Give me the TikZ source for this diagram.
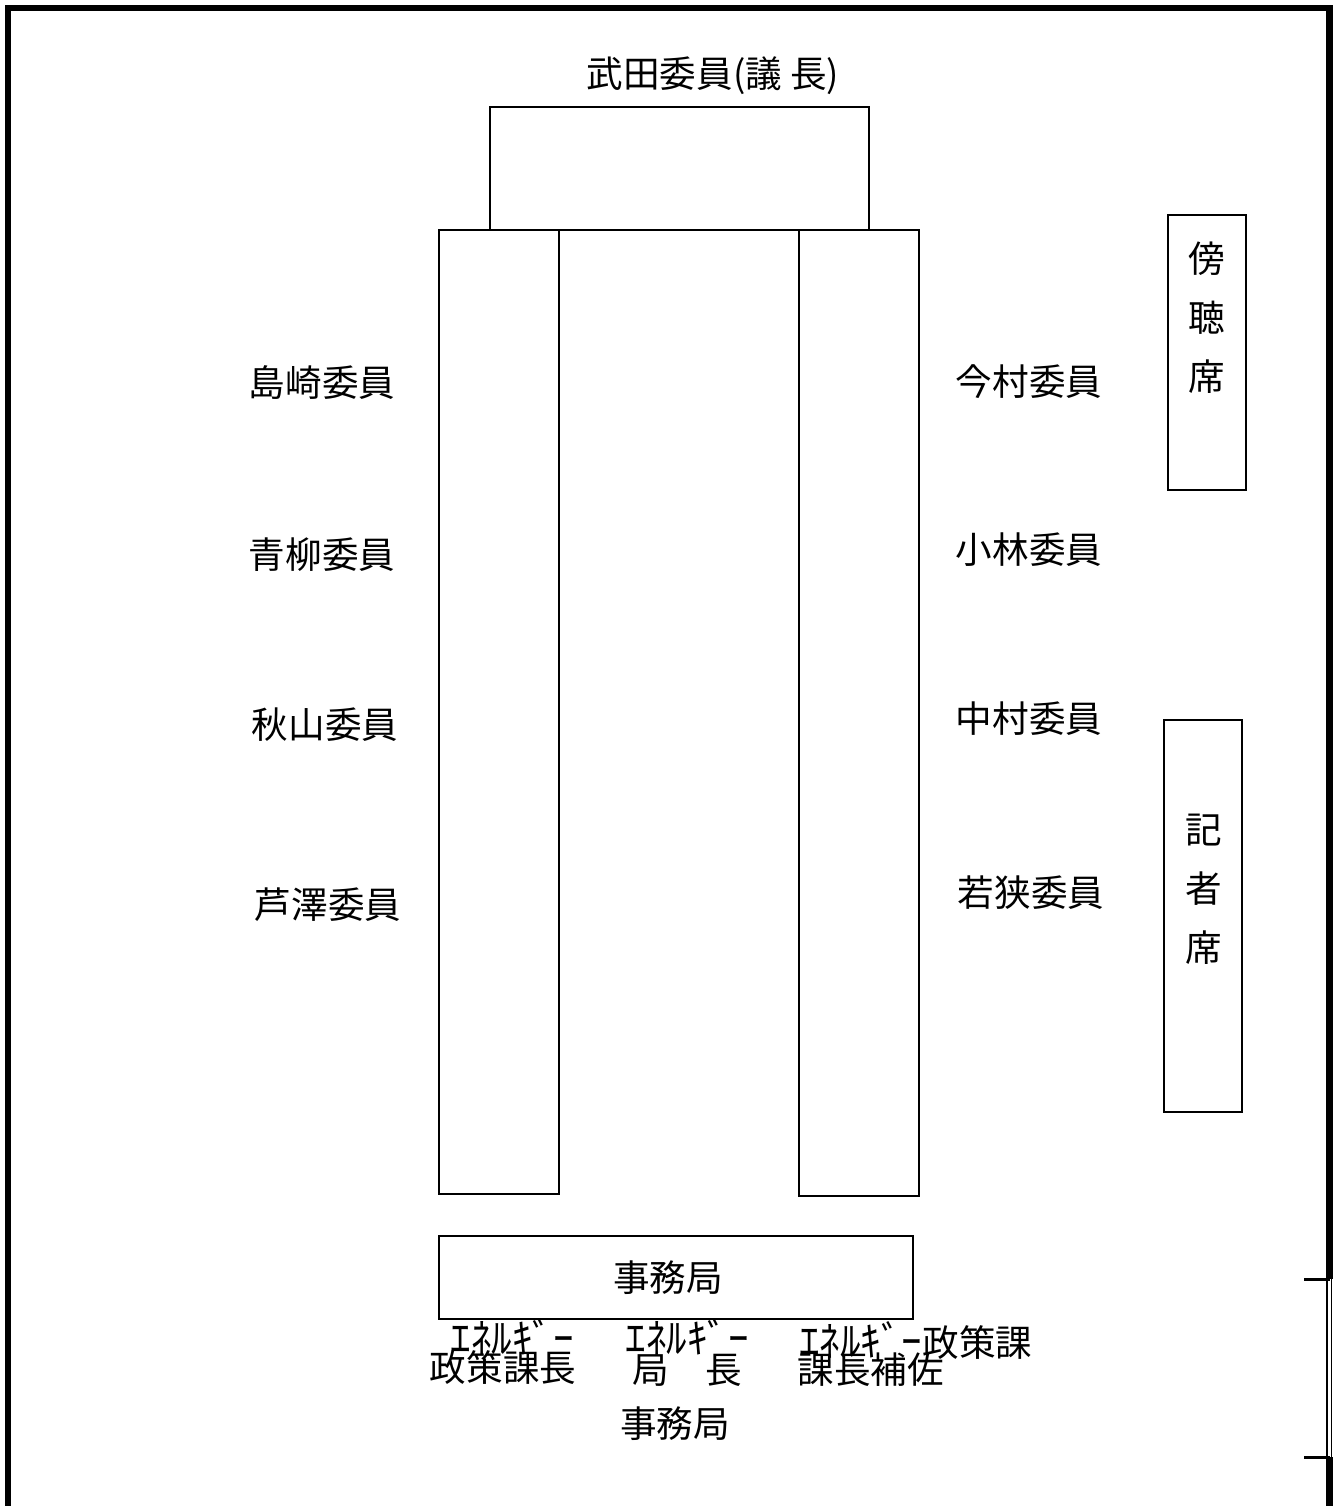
\documentclass[tikz,border=0pt]{standalone}
\usepackage{fontspec}
\newfontfamily\jp{Noto Sans CJK JP}
\newcommand{\hk}[1]{{\fontsize{20.5pt}{20pt}\selectfont #1}}
\begin{document}
\begin{tikzpicture}[x=0.5pt,y=-0.5pt,
  tbl/.style={draw, line width=0.9pt},
  lbl/.style={font=\jp\fontsize{18.3pt}{20pt}\selectfont, inner sep=0pt},
  vlbl/.style={font=\jp\fontsize{18.3pt}{29.5pt}\selectfont, inner sep=0pt, align=center},
  wall/.style={line width=3.2pt},
]
\useasboundingbox (0,0) rectangle (1333,1506);
% walls
\draw[wall] (8,1506) -- (8,8) -- (1329.5,8) -- (1329.5,1279);
\draw[wall] (1329.5,1457) -- (1329.5,1506);
% door
\draw[line width=0.8pt] (1327,1279) -- (1327,1457);
\draw[line width=0.8pt] (1331.5,1279) -- (1331.5,1457);
\draw[line width=1.5pt] (1304,1279) -- (1330,1279);
\draw[line width=1.5pt] (1304,1457) -- (1330,1457);
% tables
\draw[tbl] (490,107) rectangle (869,230);
\draw[tbl] (439,230) rectangle (559,1194);
\draw[tbl] (799,230) rectangle (919,1196);
\draw[tbl] (1168,215) rectangle (1246,490);
\draw[tbl] (1164,720) rectangle (1242,1112);
\draw[tbl] (439,1236) rectangle (913,1319);
% labels
\node[lbl] (chair) at (713,76) {武田委員(議 長)};
\node[lbl] (l1) at (322,383) {島崎委員};
\node[lbl] (l2) at (322,555) {青柳委員};
\node[lbl] (l3) at (325,725) {秋山委員};
\node[lbl] (l4) at (328,905) {芦澤委員};
\node[lbl] (r1) at (1029,382) {今村委員};
\node[lbl] (r2) at (1029,550) {小林委員};
\node[lbl] (r3) at (1029,719) {中村委員};
\node[lbl] (r4) at (1031,893) {若狭委員};
\node[vlbl] (bocho) at (1207,318) {傍\\聴\\席};
\node[vlbl] (kisha) at (1204,889) {記\\者\\席};
\node[lbl] (jimu1) at (668,1278) {事務局};
\node[lbl] (e1) at (512,1337) {\hk{ｴﾈﾙｷﾞｰ}};
\node[lbl] (a1) at (503,1368) {政策課長};
\node[lbl] (e2) at (687,1337) {\hk{ｴﾈﾙｷﾞｰ}};
\node[lbl] (a2) at (687,1370) {局　長};
\node[lbl, anchor=west] (e3) at (799,1340) {\hk{ｴﾈﾙｷﾞｰ}政策課};
\node[lbl, anchor=west] (a3) at (797,1370) {課長補佐};
\node[lbl] (jimu2) at (675,1424) {事務局};
\end{tikzpicture}
\end{document}
